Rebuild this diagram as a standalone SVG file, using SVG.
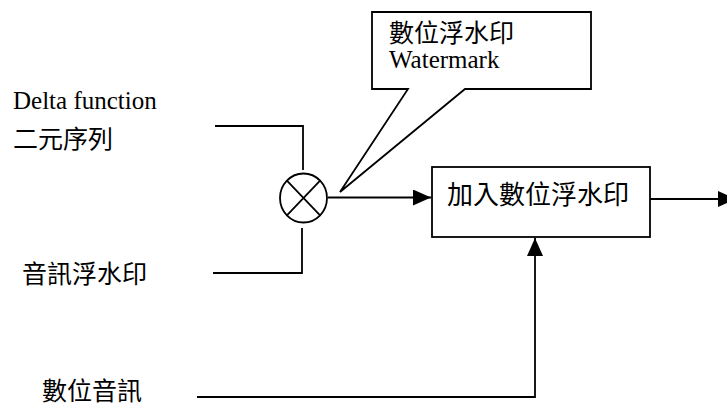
<svg xmlns="http://www.w3.org/2000/svg" width="727" height="407" viewBox="0 0 727 407">
<style>
.ln{fill:none;stroke:#000;stroke-width:1.8}
.bx{fill:#fff;stroke:#000;stroke-width:1.8}
.zh{font-family:"Noto Sans CJK TC","Noto Sans CJK SC",sans-serif;font-size:25px;fill:#000}
.en{font-family:"Liberation Serif",serif;font-size:25px;fill:#000}
</style>
<defs>
<marker id="ah" viewBox="0 0 18 16" refX="18" refY="8" markerWidth="18" markerHeight="16" markerUnits="userSpaceOnUse" orient="auto">
<path d="M0,0 L18,8 L0,16 Z" fill="#000"/>
</marker>
</defs>
<g id="labels">
<text class="en" x="13" y="109">Delta function</text>
<text class="zh" x="13" y="148">二元序列</text>
<text class="zh" x="22" y="283">音訊浮水印</text>
<text class="zh" x="42" y="400">數位音訊</text>
</g>
<g id="connectors">
<polyline class="ln" points="215,126 303,126 303,170"/>
<polyline class="ln" points="213,273 302,273 302,228"/>
<line class="ln" x1="328" y1="197.5" x2="431" y2="197.5" marker-end="url(#ah)"/>
<line class="ln" x1="650" y1="199" x2="736" y2="199" marker-end="url(#ah)"/>
<polyline class="ln" points="197,397 535,397 535,238" marker-end="url(#ah)"/>
</g>
<g id="multiplier">
<ellipse class="ln" cx="303.5" cy="198" rx="23.5" ry="24.5"/>
<line class="ln" x1="286.9" y1="180.7" x2="320.1" y2="215.3"/>
<line class="ln" x1="320.1" y1="180.7" x2="286.9" y2="215.3"/>
</g>
<g id="callout">
<path class="bx" d="M372,12 H591 V89 H465 L340,192 L408,89 H372 Z"/>
<text class="zh" x="389" y="42">數位浮水印</text>
<text class="en" x="389" y="68">Watermark</text>
</g>
<g id="embed">
<rect class="bx" x="432" y="167" width="218" height="70"/>
<text class="zh" x="447" y="204" style="font-size:26px">加入數位浮水印</text>
</g>
</svg>
